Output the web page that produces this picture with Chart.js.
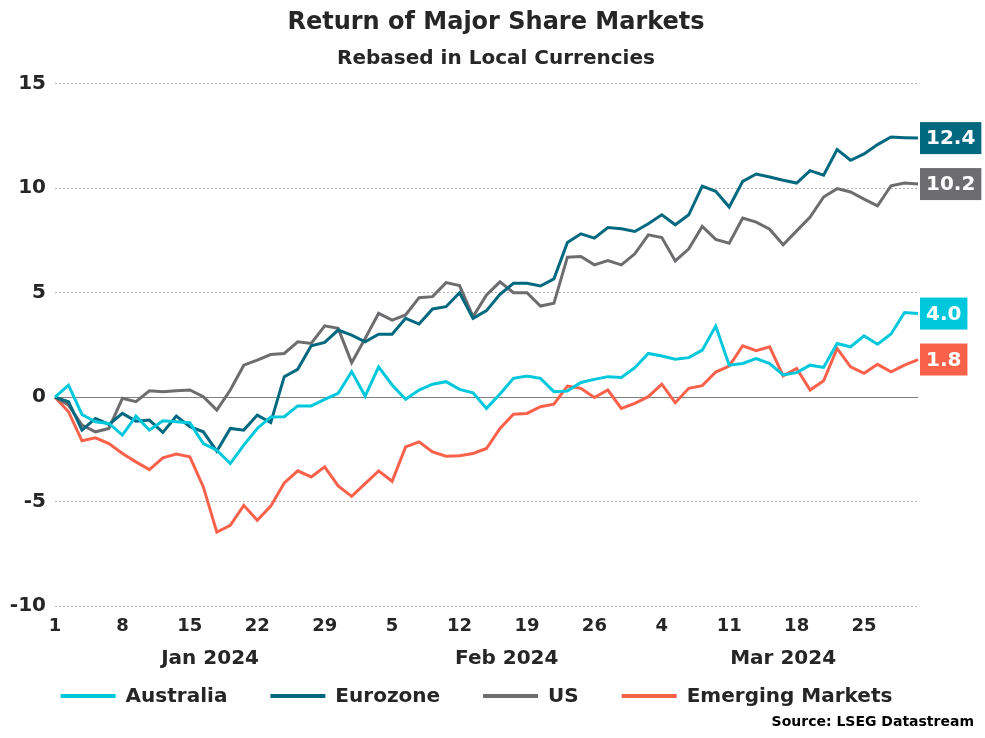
<!DOCTYPE html>
<html>
<head>
<meta charset="utf-8">
<script src="https://cdn.jsdelivr.net/npm/chart.js@4"></script>
<style>
  html, body { margin: 0; padding: 0; background: #fff; }
  #wrap { width: 985px; height: 738px; }
</style>
</head>
<body>
<div id="wrap"><canvas id="marketsChart"></canvas></div>
<script>
// business days, Jan 1 - Mar 29 2024
const dates = [
  '2024-01-01','2024-01-02','2024-01-03','2024-01-04','2024-01-05',
  '2024-01-08','2024-01-09','2024-01-10','2024-01-11','2024-01-12',
  '2024-01-15','2024-01-16','2024-01-17','2024-01-18','2024-01-19',
  '2024-01-22','2024-01-23','2024-01-24','2024-01-25','2024-01-26',
  '2024-01-29','2024-01-30','2024-01-31','2024-02-01','2024-02-02',
  '2024-02-05','2024-02-06','2024-02-07','2024-02-08','2024-02-09',
  '2024-02-12','2024-02-13','2024-02-14','2024-02-15','2024-02-16',
  '2024-02-19','2024-02-20','2024-02-21','2024-02-22','2024-02-23',
  '2024-02-26','2024-02-27','2024-02-28','2024-02-29','2024-03-01',
  '2024-03-04','2024-03-05','2024-03-06','2024-03-07','2024-03-08',
  '2024-03-11','2024-03-12','2024-03-13','2024-03-14','2024-03-15',
  '2024-03-18','2024-03-19','2024-03-20','2024-03-21','2024-03-22',
  '2024-03-25','2024-03-26','2024-03-27','2024-03-28','2024-03-29'
];
const months = ['Jan 2024', 'Feb 2024', 'Mar 2024'];
const monthKeys = ['2024-01', '2024-02', '2024-03'];

const australia = [
  0, 0.57, -0.83, -1.18, -1.26, -1.82, -0.91, -1.58, -1.13, -1.18,
  -1.23, -2.22, -2.54, -3.18, -2.30, -1.50, -0.95, -0.94, -0.42, -0.42,
  -0.11, 0.18, 1.22, 0.05, 1.45, 0.58, -0.10, 0.34, 0.62, 0.74,
  0.37, 0.21, -0.54, 0.15, 0.90, 1.01, 0.90, 0.26, 0.29, 0.70,
  0.85, 0.98, 0.94, 1.41, 2.09, 1.97, 1.81, 1.89, 2.25, 3.40,
  1.53, 1.61, 1.85, 1.61, 1.06, 1.17, 1.53, 1.42, 2.57, 2.41,
  2.93, 2.53, 3.02, 4.05, 4.0
];
const eurozone = [
  0, -0.22, -1.58, -1.02, -1.31, -0.78, -1.15, -1.10, -1.69, -0.91,
  -1.42, -1.66, -2.59, -1.50, -1.58, -0.86, -1.22, 0.98, 1.33, 2.46,
  2.62, 3.21, 2.97, 2.65, 3.01, 3.01, 3.77, 3.50, 4.22, 4.33,
  5.0, 3.77, 4.14, 4.92, 5.45, 5.45, 5.32, 5.66, 7.40, 7.82,
  7.61, 8.12, 8.06, 7.93, 8.30, 8.73, 8.25, 8.73, 10.1, 9.85,
  9.10, 10.33, 10.68, 10.54, 10.38, 10.25, 10.84, 10.62, 11.85, 11.34,
  11.64, 12.09, 12.45, 12.42, 12.4
];
const us = [
  0, -0.38, -1.34, -1.66, -1.50, -0.06, -0.22, 0.30, 0.26, 0.30,
  0.34, 0.02, -0.62, 0.34, 1.53, 1.77, 2.04, 2.09, 2.65, 2.57,
  3.41, 3.29, 1.65, 2.81, 4.01, 3.69, 3.93, 4.76, 4.81, 5.48,
  5.34, 3.85, 4.89, 5.52, 5.0, 5.0, 4.36, 4.49, 6.70, 6.73,
  6.33, 6.54, 6.33, 6.86, 7.77, 7.64, 6.52, 7.10, 8.17, 7.55,
  7.37, 8.57, 8.38, 8.04, 7.29, 7.96, 8.62, 9.58, 9.98, 9.82,
  9.48, 9.16, 10.12, 10.25, 10.2
];
const emerging = [
  0, -0.70, -2.09, -1.95, -2.22, -2.70, -3.10, -3.47, -2.91, -2.73,
  -2.86, -4.30, -6.46, -6.14, -5.18, -5.90, -5.22, -4.11, -3.53, -3.82,
  -3.34, -4.25, -4.75, -4.14, -3.53, -4.03, -2.38, -2.14, -2.62, -2.83,
  -2.81, -2.70, -2.46, -1.50, -0.82, -0.78, -0.46, -0.34, 0.53, 0.42,
  -0.02, 0.34, -0.54, -0.30, 0.02, 0.62, -0.27, 0.42, 0.55, 1.20,
  1.49, 2.46, 2.22, 2.41, 1.02, 1.37, 0.34, 0.78, 2.33, 1.45,
  1.14, 1.57, 1.21, 1.53, 1.8
];

const TXT = '#262626';
const FONT = "'DejaVu Sans'";
Chart.defaults.font.family = FONT;
Chart.defaults.font.weight = 'bold';
Chart.defaults.color = TXT;

function series(label, data, color) {
  return {
    label, data,
    borderColor: color, backgroundColor: color,
    borderWidth: 3, pointRadius: 0, pointHoverRadius: 0, tension: 0
  };
}

// zero line, end-value tags, month names, legend row and source note
const extras = {
  id: 'extras',
  beforeDatasetsDraw(chart) {
    const { ctx, chartArea: a, scales: { y } } = chart;
    const y0 = Math.round(y.getPixelForValue(0)) + 0.5;
    ctx.save();
    ctx.strokeStyle = '#7f7f7f';
    ctx.lineWidth = 1;
    ctx.beginPath();
    ctx.moveTo(a.left, y0);
    ctx.lineTo(a.right, y0);
    ctx.stroke();
    ctx.restore();
  },
  afterDatasetsDraw(chart) {
    const { ctx, chartArea: a, scales: { y } } = chart;
    ctx.save();
    ctx.font = `bold 20px ${FONT}`;
    ctx.textAlign = 'center';
    ctx.textBaseline = 'middle';
    chart.data.datasets.forEach(ds => {
      const v = ds.data[ds.data.length - 1];
      const py = y.getPixelForValue(v);
      const txt = v.toFixed(1);
      const w = ctx.measureText(txt).width + 12;
      ctx.fillStyle = ds.borderColor;
      ctx.fillRect(a.right + 2, py - 16, w, 32);
      ctx.fillStyle = '#fff';
      ctx.fillText(txt, a.right + 2 + w / 2, py + 1);
    });
    ctx.restore();
  },
  afterDraw(chart) {
    const { ctx, chartArea: a, scales: { x } } = chart;
    ctx.save();
    ctx.fillStyle = TXT;
    ctx.font = `bold 20px ${FONT}`;
    ctx.textAlign = 'center';
    ctx.textBaseline = 'middle';
    monthKeys.forEach((key, m) => {
      const first = dates.findIndex(d => d.startsWith(key));
      const next = m + 1 < monthKeys.length
        ? dates.findIndex(d => d.startsWith(monthKeys[m + 1]))
        : dates.length - 1;
      const px = (x.getPixelForValue(first) + x.getPixelForValue(next)) / 2;
      ctx.fillText(months[m], px, x.top + 53);
    });

    // legend row
    const ly = x.top + 90;
    const sample = 55, gap = 10, between = 43;
    const items = chart.data.datasets.map(ds => ({
      ds, w: ctx.measureText(ds.label).width
    }));
    const total = items.reduce((s, it) => s + sample + gap + it.w, 0) + between * (items.length - 1);
    let lx = (a.left + a.right) / 2 - 10 - total / 2;
    ctx.textAlign = 'left';
    items.forEach(it => {
      ctx.fillStyle = it.ds.borderColor;
      ctx.fillRect(lx, ly - 2, sample, 4);
      ctx.fillStyle = TXT;
      ctx.fillText(it.ds.label, lx + sample + gap, ly + 1);
      lx += sample + gap + it.w + between;
    });

    ctx.fillStyle = '#000';
    ctx.font = `bold 14px ${FONT}`;
    ctx.textAlign = 'right';
    ctx.fillText('Source: LSEG Datastream', chart.width - 11, chart.height - 16);
    ctx.restore();
  }
};

new Chart(document.getElementById('marketsChart'), {
  type: 'line',
  data: {
    labels: dates,
    datasets: [
      series('Australia', australia, '#00C8DC'),
      series('Eurozone', eurozone, '#00697F'),
      series('US', us, '#6D6D6F'),
      series('Emerging Markets', emerging, '#FA614B')
    ]
  },
  options: {
    responsive: true,
    maintainAspectRatio: false,
    animation: false,
    layout: { padding: { left: 7, right: 0, top: 0, bottom: 86 } },
    scales: {
      x: {
        type: 'category',
        offset: false,
        grid: { display: false, drawTicks: false },
        border: { display: false },
        ticks: {
          autoSkip: false,
          maxRotation: 0,
          padding: 10,
          font: { size: 18 },
          callback(value, i) {
            const d = dates[i];
            return new Date(d + 'T00:00:00').getDay() === 1 ? String(+d.slice(8)) : '';
          }
        },
        afterFit(scale) { scale.height = 46; }
      },
      y: {
        min: -10,
        max: 15,
        ticks: { stepSize: 5, padding: 9, font: { size: 20 } },
        grid: { color: '#b4b4b4', lineWidth: 1, drawTicks: false },
        border: { display: false, dash: [2, 2] },
        afterFit(scale) { scale.width = 48; }
      },
      // empty right axis keeps room for the end-value tags
      y2: {
        position: 'right',
        grid: { display: false, drawTicks: false },
        border: { display: false },
        ticks: { display: false },
        afterFit(scale) { scale.width = 67; }
      }
    },
    plugins: {
      title: {
        display: true,
        text: 'Return of Major Share Markets',
        color: TXT,
        font: { size: 24, weight: 'bold' },
        padding: { top: 8, bottom: 4 }
      },
      subtitle: {
        display: true,
        text: 'Rebased in Local Currencies',
        color: TXT,
        font: { size: 20, weight: 'bold' },
        padding: { top: 6, bottom: 13 }
      },
      legend: { display: false },
      tooltip: { enabled: false }
    }
  },
  plugins: [extras]
});
</script>
</body>
</html>
